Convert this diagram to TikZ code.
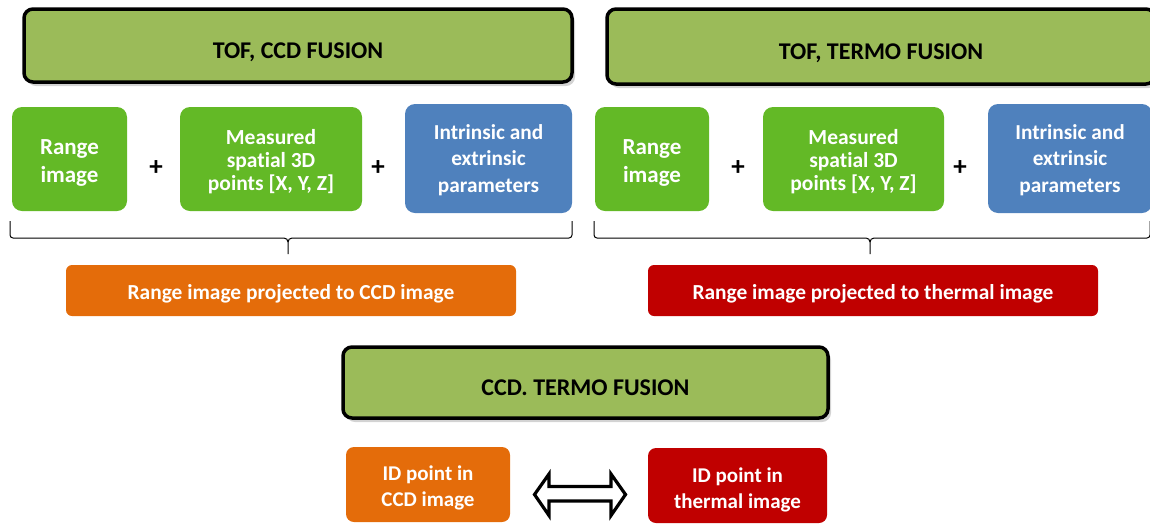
\documentclass[tikz,border=0pt]{standalone}
\usepackage{fontspec}
\setmainfont[Ligatures=NoCommon]{Carlito}
\usetikzlibrary{shadows}
\definecolor{titlegreen}{RGB}{155,187,89}
\definecolor{boxgreen}{RGB}{99,185,38}
\definecolor{boxblue}{RGB}{79,129,189}
\definecolor{boxorange}{RGB}{228,108,10}
\definecolor{boxred}{RGB}{192,0,0}
\begin{document}
\begin{tikzpicture}[x=1pt,y=-1pt,
  titlebox/.style={draw=black, line width=3.5pt, fill=titlegreen, rounded corners=9pt,
    drop shadow={shadow xshift=3pt, shadow yshift=-4pt, opacity=0.35},
    font=\bfseries\fontsize{24}{28}\selectfont, text=black, inner sep=0pt,
    text depth=0pt, text height=26pt},
  infobox/.style={rounded corners=10pt, inner sep=0pt},
  wtext/.style={text=white, align=center, inner sep=0pt},
  rangetext/.style={wtext, font=\bfseries\fontsize{23}{28}\selectfont},
  meastext/.style={wtext, font=\bfseries\fontsize{21.5}{23}\selectfont},
  intrtext/.style={wtext, font=\bfseries\fontsize{21.3}{26.5}\selectfont},
  bartext/.style={wtext, font=\bfseries\fontsize{21.4}{24}\selectfont},
  idtext/.style={wtext, font=\bfseries\fontsize{21}{26}\selectfont},
  plus/.style={font=\bfseries\fontsize{27}{28}\selectfont, text=black, inner sep=0pt},
  bracket/.style={draw=black, line width=1pt},
  dblarrow/.style={draw=black, line width=3.2pt, fill=white, line join=miter}
]
\useasboundingbox (0,0) rectangle (1150,523);

% title boxes
\node[titlebox, minimum width=548pt, minimum height=73pt] (t1) at (298,45.5) {TOF, CCD FUSION};
\node[titlebox, minimum width=548pt, minimum height=75pt] (t2) at (881,46.5) {TOF, TERMO FUSION};
\node[titlebox, minimum width=485pt, minimum height=71pt] (t3) at (585.5,382.5) {CCD. TERMO FUSION};

% left group
\node[infobox, fill=boxgreen, minimum width=115pt, minimum height=104pt,
  label={[rangetext, yshift=-4pt]center:{Range\\image}}] (r1) at (69.5,159) {};
\node[plus] (p1) at (156,168) {+};
\node[infobox, fill=boxgreen, minimum width=182pt, minimum height=104pt,
  label={[meastext, yshift=-3pt]center:{Measured\\spatial 3D\\points [X, Y, Z]}}] (m1) at (271,159) {};
\node[plus] (p2) at (378,168) {+};
\node[infobox, fill=boxblue, minimum width=167pt, minimum height=109pt,
  label={[intrtext, yshift=-1.5pt]center:{Intrinsic and\\extrinsic\\parameters}}] (i1) at (488.5,158.5) {};

% right group
\node[infobox, fill=boxgreen, minimum width=114pt, minimum height=104pt,
  label={[rangetext, yshift=-4pt]center:{Range\\image}}] (r2) at (652,159) {};
\node[plus] (p3) at (738,168) {+};
\node[infobox, fill=boxgreen, minimum width=181pt, minimum height=104pt,
  label={[meastext, yshift=-3pt]center:{Measured\\spatial 3D\\points [X, Y, Z]}}] (m2) at (853.5,159) {};
\node[plus] (p4) at (960,168) {+};
\node[infobox, fill=boxblue, minimum width=164pt, minimum height=109pt,
  label={[intrtext, yshift=-1.5pt]center:{Intrinsic and\\extrinsic\\parameters}}] (i2) at (1070,158.5) {};

% brackets
\draw[bracket] (10,221) -- (10,235) to[out=-90,in=180] (13,238) -- (284,238)
  to[out=0,in=90] (288,242) -- (288,254);
\draw[bracket] (288,242) to[out=90,in=180] (292,238) -- (569,238)
  to[out=0,in=-90] (572,235) -- (572,221);
\draw[bracket] (594,221) -- (594,235) to[out=-90,in=180] (597,238) -- (866,238)
  to[out=0,in=90] (870,242) -- (870,254);
\draw[bracket] (870,242) to[out=90,in=180] (874,238) -- (1147,238)
  to[out=0,in=-90] (1150,235) -- (1150,221);

% result bars
\node[infobox, fill=boxorange, minimum width=450pt, minimum height=51pt, rounded corners=6pt,
  label={[bartext, yshift=-3pt]center:{Range image projected to CCD image}}] (o1) at (291,290.5) {};
\node[infobox, fill=boxred, minimum width=450pt, minimum height=51pt, rounded corners=6pt,
  label={[bartext, yshift=-3pt]center:{Range image projected to thermal image}}] (o2) at (873,290.5) {};

% bottom boxes
\node[infobox, fill=boxorange, minimum width=164pt, minimum height=75pt, rounded corners=8pt,
  label={[idtext, yshift=-3pt]center:{ID point in\\CCD image}}] (c1) at (428,484.5) {};
\node[infobox, fill=boxred, minimum width=179pt, minimum height=75pt, rounded corners=8pt,
  label={[idtext, yshift=-4pt]center:{ID point in\\thermal image}}] (c2) at (737.5,485.5) {};

% double arrow
\draw[dblarrow] (534.5,494.5) -- (549,474) -- (549,486.5) -- (611,486.5) -- (611,474) -- (625.5,494.5)
  -- (611,515.5) -- (611,501) -- (549,501) -- (549,515.5) -- cycle;
\end{tikzpicture}
\end{document}
